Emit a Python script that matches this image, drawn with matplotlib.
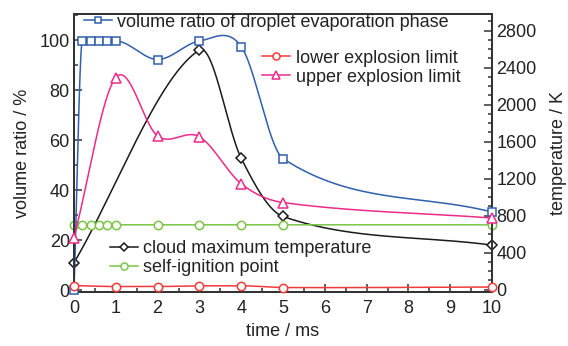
import numpy as np
import matplotlib.pyplot as plt
from matplotlib.ticker import MultipleLocator

plt.rcParams['font.family'] = ['Liberation Sans', 'DejaVu Sans']
plt.rcParams['font.size'] = 13

# volume ratio of droplet evaporation phase (%)
t_vol = [0, 0.2, 0.4, 0.6, 0.8, 1, 2, 3, 4, 5, 10]
vol = [0, 99.6, 99.6, 99.6, 99.6, 99.6, 92.2, 99.6, 97.4, 52.6, 31.2]

# explosion limits (%)
t_lim = [0, 1, 2, 3, 4, 5, 10]
lel = [1.8, 1.4, 1.4, 1.7, 1.7, 1.0, 1.2]
uel = [21, 85, 61.6, 61.3, 42.5, 35, 28.8]

# cloud maximum temperature (K)
t_temp = [0, 3, 4, 5, 10]
temp = [290, 2590, 1420, 790, 480]

# self-ignition point (K)
t_ign = [0, 0.2, 0.4, 0.6, 0.8, 1, 2, 3, 4, 5, 10]
ign = [700] * len(t_ign)

BLUE = '#2f5fae'
RED = '#f23a3a'
PINK = '#ec2a8a'
GREEN = '#7cc447'
BLACK = '#1a1a1a'
GREY = '#333333'


def spline(x, y, n=1500):
    # cardinal (Catmull-Rom) Hermite curve; flat runs stay flat
    x = np.asarray(x, float)
    y = np.asarray(y, float)
    d = np.diff(y) / np.diff(x)
    m = np.empty_like(y)
    m[0], m[-1] = d[0], d[-1]
    for i in range(1, len(x) - 1):
        if d[i - 1] == 0 or d[i] == 0:
            m[i] = 0
        else:
            m[i] = (y[i + 1] - y[i - 1]) / (x[i + 1] - x[i - 1])
    xs = np.linspace(x[0], x[-1], n)
    j = np.clip(np.searchsorted(x, xs) - 1, 0, len(x) - 2)
    h = x[j + 1] - x[j]
    t = (xs - x[j]) / h
    ys = ((2 * t**3 - 3 * t**2 + 1) * y[j] + (t**3 - 2 * t**2 + t) * h * m[j]
          + (-2 * t**3 + 3 * t**2) * y[j + 1] + (t**3 - t**2) * h * m[j + 1])
    return xs, ys


def draw(ax, x, y, color, marker, ms, label):
    xs, ys = spline(x, y)
    ax.plot(xs, ys, color=color, lw=1.1, zorder=2)
    ax.plot(x, y, ls='none', marker=marker, ms=ms, mfc='white', mec=color,
            mew=1.1, zorder=3, clip_on=False)
    return ax.plot([], [], color=color, lw=1.1, marker=marker, ms=ms * 0.85,
                   mfc='white', mec=color, mew=1.1, label=label)[0]


fig = plt.figure(figsize=(5.68, 3.46), dpi=100)
ax = fig.add_axes([0.1303, 0.156, 0.7359, 0.8035])
ax2 = ax.twinx()
ax.set_zorder(ax2.get_zorder() + 1)
ax.patch.set_visible(False)

h_vol = draw(ax, t_vol, vol, BLUE, 's', 5.5, 'volume ratio of droplet evaporation phase')
h_lel = draw(ax, t_lim, lel, RED, 'o', 6, 'lower explosion limit')
h_uel = draw(ax, t_lim, uel, PINK, '^', 7, 'upper explosion limit')
h_temp = draw(ax2, t_temp, temp, BLACK, 'D', 5, 'cloud maximum temperature')
h_ign = draw(ax2, t_ign, ign, GREEN, 'o', 6, 'self-ignition point')

ax.set_xlim(0, 10)
ax.set_ylim(-0.8, 110.4)
ax2.set_ylim(-27, 2980)

ax.xaxis.set_major_locator(MultipleLocator(1))
ax.xaxis.set_minor_locator(MultipleLocator(0.5))
ax.yaxis.set_major_locator(MultipleLocator(20))
ax.yaxis.set_minor_locator(MultipleLocator(10))
ax2.yaxis.set_major_locator(MultipleLocator(400))
ax2.yaxis.set_minor_locator(MultipleLocator(100))

for a in (ax, ax2):
    a.tick_params(which='both', direction='in', colors=GREY, labelcolor='#222222',
                  labelsize=13, width=1.1)
    a.tick_params(which='major', length=6)
    a.tick_params(which='minor', length=3)
    for s in a.spines.values():
        s.set_color(GREY)
        s.set_linewidth(1.4)
ax.tick_params(axis='x', pad=6)
ax.tick_params(axis='y', pad=3)
ax2.tick_params(axis='y', pad=3)

ax.set_xlabel('time / ms', color='#222222', fontsize=13, labelpad=4)
ax.set_ylabel('volume ratio / %', color='#222222', fontsize=13, labelpad=6)
ax2.set_ylabel('temperature / K', color='#222222', fontsize=13, labelpad=10)

common = dict(frameon=False, fontsize=13, borderpad=0, borderaxespad=0,
              handlelength=1.55, handletextpad=0.3, labelspacing=0.12,
              labelcolor='#222222')
leg1 = ax.legend(handles=[h_vol], loc='center left', bbox_to_anchor=(0.024, 0.971), **common)
ax.add_artist(leg1)
leg2 = ax.legend(handles=[h_lel, h_uel], loc='center left', bbox_to_anchor=(0.45, 0.807), **common)
ax.add_artist(leg2)
ax.legend(handles=[h_temp, h_ign], loc='center left', bbox_to_anchor=(0.086, 0.122), **common)

fig.savefig('out.png', dpi=100)
